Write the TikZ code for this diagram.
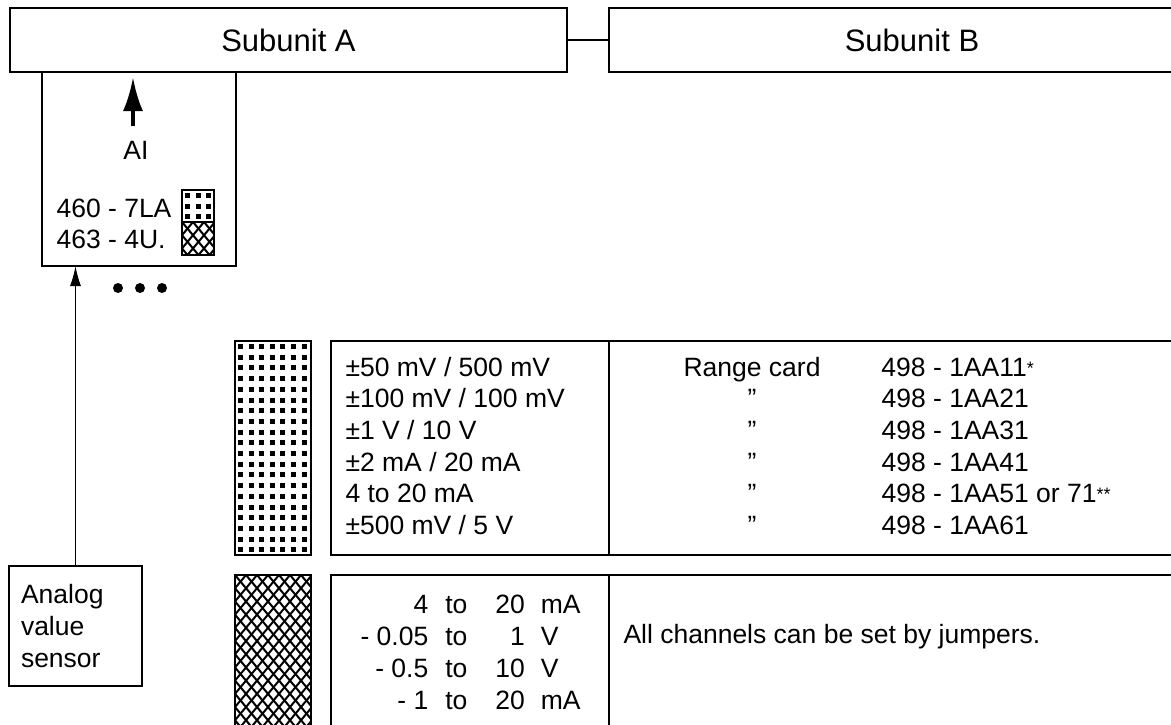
\documentclass[tikz,border=0pt]{standalone}
\usepackage{fontspec}
\setmainfont{Liberation Sans}
\usetikzlibrary{arrows.meta,positioning,calc}
\newcommand{\notemark}[1]{\raisebox{2pt}{\fontsize{18}{18}\selectfont #1}}
\newcommand{\squaredots}[1]{%
  \begin{scope}
    \clip (#1.north west) rectangle (#1.south east);
    \foreach \i in {0,...,7}
      \foreach \j in {0,...,20}
        \fill ($(#1.north west)+(\i*10.6+3,\j*10.7+3)$) rectangle ++(5,5);
  \end{scope}}
\newcommand{\diamondhatch}[1]{%
  \begin{scope}
    \clip (#1.north west) rectangle (#1.south east);
    \foreach \k in {-16,...,24} {
      \draw[line width=2pt] ($(#1.north west)+(\k*11,0)$) -- ++(150,180);
      \draw[line width=2pt] ($(#1.north west)+(\k*11,0)$) -- ++(-150,180);
    }
  \end{scope}}

\begin{document}
\begin{tikzpicture}[
  x=1pt, y=-1pt,
  font=\fontsize{26.5}{31.6}\selectfont,
  box/.style={draw=black, line width=1.4pt, inner sep=0pt, outer sep=0pt},
  unit/.style={box, line width=1.6pt, font=\fontsize{31}{36}\selectfont,
               minimum height=64pt},
  swatch/.style={box, anchor=north west},
  arrow/.style={-{Latex[length=20pt, width=11pt]}, line width=1.3pt},
  bigarrow/.style={-{Latex[length=34pt, width=20pt]}, line width=4pt},
  dotmark/.style={circle, fill=black, inner sep=0pt, minimum size=10pt}
]
\useasboundingbox (0,0) rectangle (1171,724);
\clip (0,0) rectangle (1171,724);

% subunits
\node[unit, minimum width=557pt] (subA) at (288.5,40) {Subunit A};
\node[unit, minimum width=606pt, right=42pt of subA] (subB) {Subunit B};
\draw[line width=1.4pt] (subA.east) -- (subB.west);

% module
\node[box, anchor=north west, minimum width=194pt, minimum height=194pt] (module) at (42,72) {};
\node (ai) at (136,150) {AI};
\coordinate (aitail) at (133,126);
\coordinate (aitip) at (133,77);
\draw[bigarrow] (aitail) -- (aitip);
\node[anchor=west, align=left] (cards) at (53,224) {460 - 7LA\\463 - 4U.};
\node[swatch, minimum width=32pt, minimum height=32pt] (smalldots) at (182,190) {};
\node[swatch, minimum width=32pt, minimum height=33pt, below=0pt of smalldots] (smallhatch) {};
\squaredots{smalldots}
\diamondhatch{smallhatch}
\foreach \n in {1,2,3}
  \node[dotmark] (dot\n) at (96+22*\n,288) {};

% sensor
\node[box, anchor=north west, minimum width=133pt, minimum height=120pt,
      text width=109pt, align=left] (sensor) at (9,566) {Analog\\value\\sensor};
\draw[arrow] (sensor.north) -- (sensor.north |- module.south);

% range cards
\node[swatch, minimum width=76pt, minimum height=214pt] (rangedots) at (235,341) {};
\squaredots{rangedots}
\node[box, anchor=north west, minimum width=278pt, minimum height=214pt] (rangelist) at (331,341) {};
\node[box, minimum width=650pt, minimum height=214pt, right=0pt of rangelist] (cardlist) {};
\node[anchor=west] (rangetext) at (342,449) {\begin{tabular}{@{}l@{}}
  ±50 mV / 500 mV\\
  ±100 mV / 100 mV\\
  ±1 V / 10 V\\
  ±2 mA / 20 mA\\
  4 to 20 mA\\
  ±500 mV / 5 V
\end{tabular}};
\node[anchor=west] (cardtext) at (680,449) {\begin{tabular}{@{}c@{\hspace{61pt}}l@{}}
  Range card & 498 - 1AA11\notemark{*}\\
  ” & 498 - 1AA21\\
  ” & 498 - 1AA31\\
  ” & 498 - 1AA41\\
  ” & 498 - 1AA51 or 71\notemark{**}\\
  ” & 498 - 1AA61
\end{tabular}};

% jumper channels
\node[swatch, minimum width=76pt, minimum height=160pt] (jumperhatch) at (235,575) {};
\diamondhatch{jumperhatch}
\node[box, anchor=north west, minimum width=278pt, minimum height=155pt] (jumperlist) at (331,575) {};
\node[box, minimum width=650pt, minimum height=155pt, right=0pt of jumperlist] (jumpernote) {};
\node[anchor=west, font=\fontsize{26.5}{32.3}\selectfont] (jumpertext) at (357,655) {\begin{tabular}{@{}r@{\hspace{17pt}}l@{\hspace{28pt}}r@{\hspace{16pt}}l@{}}
  4 & to & 20 & mA\\
  - 0.05 & to & 1 & V\\
  - 0.5 & to & 10 & V\\
  - 1 & to & 20 & mA
\end{tabular}};
\node[anchor=west] (notetext) at (620,637) {All channels can be set by jumpers.};
\end{tikzpicture}
\end{document}
